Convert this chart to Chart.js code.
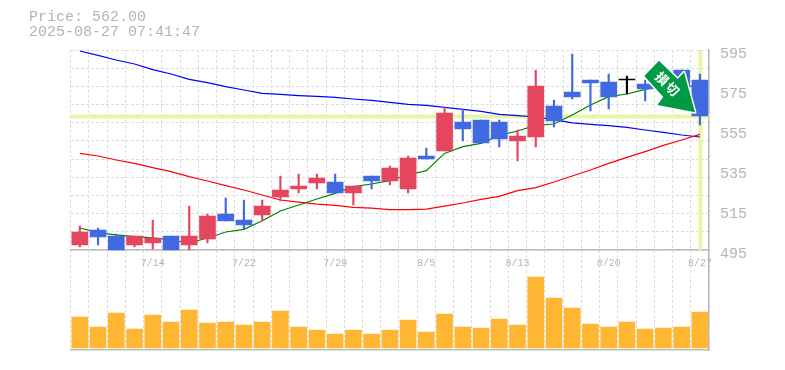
<!DOCTYPE html>
<html lang="en">
<head>
  <meta charset="UTF-8">
  <title>Price Chart</title>
  <script src="https://cdn.jsdelivr.net/npm/chart.js"></script>
  <style>
    body {
      margin: 0;
      background: #fff;
      overflow: hidden;
    }

    #info {
      position: absolute;
      left: 29px;
      top: 10px;
      font: 15px/15px "Liberation Mono", monospace;
      color: #b4b4b4;
      white-space: pre;
    }

    canvas {
      display: block;
    }
  </style>
</head>
<body>
  <div id="info"></div>
  <canvas id="priceChart" width="785" height="370"></canvas>

  <script>
    const lastPrice = 562;
    const lastTime = "2025-08-27 07:41:47";

    const dates = ["7/8", "7/9", "7/10", "7/11", "7/14", "7/15", "7/16", "7/17", "7/18", "7/22", "7/23", "7/24",
      "7/25", "7/28", "7/29", "7/30", "7/31", "8/1", "8/4", "8/5", "8/6", "8/7", "8/8", "8/12", "8/13", "8/14",
      "8/15", "8/18", "8/19", "8/20", "8/21", "8/22", "8/25", "8/26", "8/27"];
    const shownDates = ["7/14", "7/22", "7/29", "8/5", "8/13", "8/20", "8/27"];
    const priceTicks = [495, 515, 535, 555, 575, 595];

    const opens = [497.5, 505, 502, 497.5, 498.5, 502, 497.5, 500.5, 513, 510, 512.5, 521.5,
      525.5, 528.5, 529, 523.5, 532, 529.5, 525.5, 542, 544.5, 559, 560, 559, 549.5, 551.5,
      567, 574, 580, 579, 580, 578, 582, 585, 580];
    const closes = [504, 501.5, 495, 502, 501, 495, 502, 512, 509.5, 507.5, 517, 525,
      527, 531, 523.5, 527, 529.5, 536, 541, 540.5, 563.5, 555.5, 548.5, 550.5, 552, 577,
      559.5, 571.5, 578.5, 571.5, 580, 575.5, 577, 574, 562];
    const highs = [507, 506, 503, 502, 510, 502, 517, 513, 521, 520, 520, 532,
      533, 533, 533, 527, 532, 537, 542, 546, 566.5, 565.5, 560, 560, 555, 585,
      570, 593, 580, 583, 582, 580, 584, 585, 583];
    const lows = [496.5, 497.5, 495, 496.5, 495.5, 495, 495, 498.5, 509.5, 505.5, 509.5, 519.5,
      523.5, 525.5, 523.5, 517.5, 525.5, 527.5, 523.5, 540.5, 544.5, 549.5, 548.5, 546.5, 539.5, 546.5,
      556.5, 570.5, 564.5, 565.5, 573, 569.5, 572, 570, 557.5];

    const maShort = [506, 503.7, 502.6, 501.7, 501.1, 500, 498.5, 501, 504, 505.3, 509.6, 514.5,
      517.5, 520.5, 523.3, 526.7, 528, 529.7, 532.5, 534.7, 543.3, 546.7, 548.3, 552.3, 554.5, 557.3,
      558, 562.5, 567.5, 571.7, 573, 575.3, 577, 578, 576];
    const maMid = [543.3, 542, 540, 538.3, 536.2, 534.2, 531.7, 529.5, 527.2, 525, 522.5, 520,
      518.9, 517.9, 517.3, 516.3, 515.9, 515.2, 515.2, 515.4, 516.9, 518.5, 520.3, 521.8, 524.7, 526.2,
      529, 532, 535, 538.3, 541.3, 544.2, 547.3, 550, 552.8];
    const maLong = [594.5, 592.3, 590, 588, 585.2, 583, 580.3, 578.7, 576.7, 575, 573.3, 572.8,
      572.2, 571.8, 571.3, 570.5, 569.8, 568.8, 567.8, 567.3, 566.3, 565.3, 564.3, 562.8, 562.2, 561.5,
      560.2, 558.6, 557.8, 557.2, 556.3, 555, 553.8, 552.5, 551.5];

    const volumes = [31000, 21000, 35000, 19000, 33000, 26000, 38000, 25000, 26000, 23000, 26000, 37000,
      21000, 18000, 14000, 18000, 14000, 18000, 28000, 16000, 34000, 21000, 20000, 29000, 23000, 71000,
      50000, 40000, 24000, 21000, 26000, 19000, 20000, 21000, 36000];

    const upColor = "#e4455f";
    const downColor = "#4169e1";
    const candleColors = opens.map((o, i) => closes[i] > o ? upColor : closes[i] < o ? downColor : "#000");

    document.getElementById("info").textContent = "Price: " + lastPrice.toFixed(2) + "\n" + lastTime;

    // guide lines at the last price and the last day, under the candles
    const guides = {
      id: "guides",
      beforeDatasetsDraw(chart) {
        const { ctx, chartArea, scales } = chart;
        const py = scales.y.getPixelForValue(lastPrice);
        const px = scales.x.getPixelForValue(dates.length - 1);
        ctx.save();
        ctx.fillStyle = "#e6f5a8";
        ctx.fillRect(chartArea.left, py - 1.5, chartArea.width, 4);
        ctx.fillRect(px - 1.5, chartArea.top, 4, scales.y.getPixelForValue(priceTicks[0]) - chartArea.top);
        ctx.restore();
      }
    };

    // the green arrow stamp in the top right corner
    const stamp = {
      id: "stamp",
      afterDatasetsDraw(chart) {
        const ctx = chart.ctx;
        const outline = [[659, 60.7], [677.7, 79], [684, 72.3], [695, 112.3], [657.3, 105], [663.3, 97], [644.3, 76]];
        ctx.save();
        ctx.beginPath();
        outline.forEach((p, i) => i ? ctx.lineTo(p[0], p[1]) : ctx.moveTo(p[0], p[1]));
        ctx.closePath();
        ctx.lineJoin = "round";
        ctx.lineWidth = 3;
        ctx.strokeStyle = "#fff";
        ctx.stroke();
        ctx.fillStyle = "#009a44";
        ctx.fill();
        ctx.fillStyle = "#fff";
        ctx.font = 'bold 13px "Noto Sans CJK JP"';
        ctx.textAlign = "center";
        ctx.textBaseline = "middle";
        [["損", 662, 78.5], ["切", 672.5, 89]].forEach(([ch, x, y]) => {
          ctx.save();
          ctx.translate(x, y);
          ctx.rotate(Math.PI / 4);
          ctx.fillText(ch, 0, 0);
          ctx.restore();
        });
        ctx.restore();
      }
    };

    function lineSet(data, color) {
      return {
        type: "line",
        data: data,
        yAxisID: "y",
        borderColor: color,
        borderWidth: 1.2,
        pointRadius: 0,
        tension: 0,
        fill: false,
        order: 3
      };
    }

    new Chart(document.getElementById("priceChart"), {
      type: "bar",
      data: {
        labels: dates,
        datasets: [
          {
            data: opens.map((o, i) => [o, closes[i]]),
            yAxisID: "y",
            backgroundColor: candleColors,
            barThickness: 16,
            minBarLength: 1,
            grouped: false,
            order: 1
          },
          {
            data: lows.map((l, i) => [l, highs[i]]),
            yAxisID: "y",
            backgroundColor: candleColors,
            barThickness: 1.5,
            grouped: false,
            order: 2
          },
          lineSet(maShort, "#008000"),
          lineSet(maMid, "#ff0000"),
          lineSet(maLong, "#0000ff"),
          {
            data: volumes,
            yAxisID: "yVol",
            backgroundColor: "#ffb733",
            barThickness: 16,
            grouped: false,
            order: 4
          }
        ]
      },
      options: {
        responsive: false,
        animation: false,
        layout: { padding: { left: 70.7, top: 50, bottom: 20 } },
        plugins: { legend: { display: false }, tooltip: { enabled: false } },
        scales: {
          x: {
            type: "category",
            offset: true,
            position: { y: 495 },
            afterFit: s => { s.height = 0; },
            grid: { color: "#ddd", offset: true, drawTicks: false },
            border: { color: "#bbb", width: 1.5, dash: [3, 2] },
            ticks: {
              autoSkip: false,
              maxRotation: 0,
              padding: 7,
              color: "#b4b4b4",
              font: { family: "Liberation Mono", size: 10 },
              callback(value) {
                const label = this.getLabelForValue(value);
                return shownDates.includes(label) ? label : "";
              }
            }
          },
          xBottom: {
            type: "category",
            position: "bottom",
            labels: dates,
            afterFit: s => { s.height = 0; },
            grid: { drawOnChartArea: false, drawTicks: false },
            border: { color: "#bbb", width: 1.5 },
            ticks: { display: false }
          },
          y: {
            position: "right",
            min: 445,
            max: 595,
            afterBuildTicks: s => { s.ticks = priceTicks.map(v => ({ value: v })); },
            afterFit: s => { s.width = 76; },
            grid: { display: false, drawTicks: false },
            border: { color: "#bbb", width: 1.5 },
            ticks: {
              padding: 11,
              labelOffset: 4,
              color: "#b4b4b4",
              font: { family: "Liberation Mono", size: 15 }
            }
          },
          yGrid: {
            position: "left",
            min: 445,
            max: 595,
            afterBuildTicks: s => {
              const ticks = [];
              for (let k = 0; k <= 11; k++) ticks.push({ value: 495 + k * 100 / 11 });
              s.ticks = ticks;
            },
            afterFit: s => { s.width = 0; },
            grid: { color: "#ddd", drawTicks: false },
            border: { display: false, dash: [3, 2] },
            ticks: { display: false }
          },
          yVol: {
            display: false,
            min: -2000,
            max: 298000
          }
        }
      },
      plugins: [guides, stamp]
    });
  </script>
</body>
</html>
